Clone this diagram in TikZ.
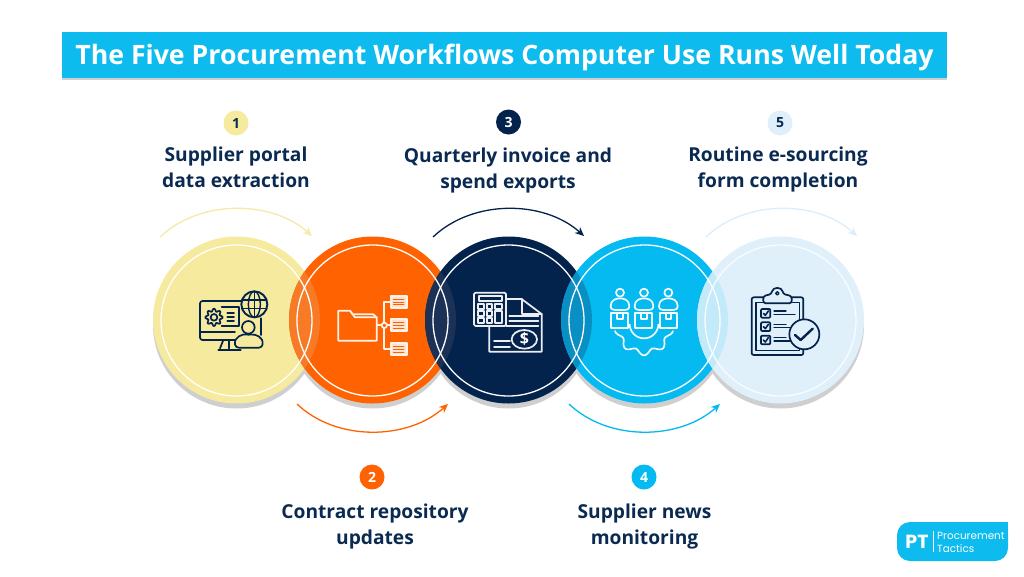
\documentclass[tikz,border=0pt]{standalone}
\usepackage{fontspec}
\setmainfont{Open Sans}
\newfontfamily\logofont{Poppins}
\usetikzlibrary{arrows.meta}
\definecolor{cyellow}{HTML}{F6EA9E}
\definecolor{corange}{HTML}{FF6200}
\definecolor{cnavy}{HTML}{03234D}
\definecolor{cblue}{HTML}{05B9F1}
\definecolor{cpale}{HTML}{DFF0FB}
\definecolor{ctitle}{HTML}{0DBBEE}
\definecolor{ctext}{HTML}{0B2A52}
\definecolor{cshadow}{HTML}{CFCFCF}
\definecolor{lensa}{HTML}{F77B26}
\definecolor{lensb}{HTML}{1C3156}
\definecolor{lensc}{HTML}{0A8FC4}
\definecolor{lensd}{HTML}{C3EAF9}
\definecolor{arcyellow}{HTML}{F5EAA6}
\definecolor{arcpale}{HTML}{DCEEF9}
\definecolor{docfill}{HTML}{FFE3D0}
\tikzset{
  disc/.style={circle,minimum size=167pt,inner sep=0pt,fill=#1},
  ring/.style={draw=white,line width=1.3pt},
  shadowdisc/.style={fill=cshadow},
  badge/.style={circle,minimum size=25pt,inner sep=0pt,fill=#1,font=\bfseries\fontsize{14}{14}\selectfont},
  steplabel/.style={align=center,font=\bfseries\fontsize{19.2}{26}\selectfont,text=ctext},
  flow/.style={line width=1.3pt,draw=#1,-{Stealth[length=9pt,width=8pt]}},
  ico/.style={line width=1.7pt,draw=#1,line join=round,line cap=round},
  zoomed/.style={x=0.33333pt,y=-0.33333pt}
}
\begin{document}
\begin{tikzpicture}[x=1pt,y=-1pt]
\useasboundingbox (0,0) rectangle (1024,576);
\fill[white] (0,0) rectangle (1024,576);

% title
\fill[cshadow] (62,34) rectangle (947,80);
\fill[ctitle] (62,32) rectangle (947,78);
\node[anchor=center,inner sep=0pt,text=white,font=\bfseries\fontsize{26.7}{30}\selectfont] (title) at (504.5,57) {The Five Procurement Workflows Computer Use Runs Well Today};

% shadows
\foreach \cx in {236.5,372.5,508.5,644.5,780.5}
  \fill[shadowdisc] (\cx,325) circle[radius=83.5];

% discs
\node[disc=cyellow] (c1) at (236.5,320) {};
\node[disc=corange] (c2) at (372.5,320) {};
\node[disc=cnavy]   (c3) at (508.5,320) {};
\node[disc=cblue]   (c4) at (644.5,320) {};
\node[disc=cpale]   (c5) at (780.5,320) {};

% overlaps
\begin{scope}\clip (236.5,320) circle[radius=83.5]; \fill[lensa] (372.5,320) circle[radius=83.5]; \end{scope}
\begin{scope}\clip (372.5,320) circle[radius=83.5]; \fill[lensb] (508.5,320) circle[radius=83.5]; \end{scope}
\begin{scope}\clip (508.5,320) circle[radius=83.5]; \fill[lensc] (644.5,320) circle[radius=83.5]; \end{scope}
\begin{scope}\clip (644.5,320) circle[radius=83.5]; \fill[lensd] (780.5,320) circle[radius=83.5]; \end{scope}

% rings
\foreach \cx in {236.5,372.5,508.5,644.5}
  \draw[ring] (\cx,320.5) circle[radius=75.5];
\draw[ring,draw=white!80!cpale] (780.5,320.5) circle[radius=75.5];

% flow arcs
\coordinate (a1s) at (160,237); \coordinate (a1e) at (312,236);
\coordinate (a2s) at (297,404); \coordinate (a2e) at (448,404);
\coordinate (a3s) at (433,237); \coordinate (a3e) at (584,236);
\coordinate (a4s) at (569,404); \coordinate (a4e) at (720,404);
\coordinate (a5s) at (706,237); \coordinate (a5e) at (857,236);
\draw[flow=arcyellow] (a1s) .. controls +(40,-38) and +(-40,-36) .. (a1e);
\draw[flow=corange]   (a2s) .. controls +(40,38) and +(-40,36) .. (a2e);
\draw[flow=cnavy]     (a3s) .. controls +(40,-38) and +(-40,-36) .. (a3e);
\draw[flow=cblue]     (a4s) .. controls +(40,38) and +(-40,36) .. (a4e);
\draw[flow=arcpale]   (a5s) .. controls +(40,-38) and +(-40,-36) .. (a5e);

% badges
\node[badge=cyellow,text=ctext] (b1) at (236,123) {1};
\node[badge=corange,text=white] (b2) at (372,477) {2};
\node[badge=cnavy,text=white]   (b3) at (508.5,122) {3};
\node[badge=cblue,text=white]   (b4) at (644,477) {4};
\node[badge=cpale,text=ctext]   (b5) at (780,123) {5};

% labels
\node[steplabel] (t1) at (236,167.5) {Supplier portal\\data extraction};
\node[steplabel] (t2) at (375,526.5) {Contract repository\\updates};
\node[steplabel] (t3) at (508,170.5) {Quarterly invoice and\\spend exports};
\node[steplabel] (t4) at (644.5,526.5) {Supplier news\\monitoring};
\node[steplabel] (t5) at (778,169.5) {Routine e-sourcing\\form completion};

% icon 1: monitor, gear, globe, person
\begin{scope}[shift={(140,220)},zoomed,ico=cnavy]
  \draw[rounded corners=2.5pt] (302,243) -- (180,243) -- (180,360) -- (290,360);
  \draw (364,295) -- (364,345);
  \draw (180,335) -- (285,335);
  \draw (250,360) -- (240,385); \draw (268,360) -- (268,385);
  \draw[rounded corners=1.5pt] (235,391) -- (302,391);
  \draw plot[domain=0:360,samples=65,smooth] ({222+(22+4*cos(8*\x))*cos(\x)},{292+(22+4*cos(8*\x))*sin(\x)});
  \draw (222,292) circle[radius=10];
  \draw (245,262) -- (297,262) -- (297,318) -- (245,318);
  \draw (262,278) -- (282,278); \draw (262,291) -- (282,291); \draw (262,304) -- (282,304);
  \draw[line width=1.9pt] (343,253) circle[radius=39];
  \draw[line width=1.4pt] (343,253) ellipse[x radius=18,y radius=39];
  \draw[line width=1.4pt] (343,214) -- (343,292);
  \draw[line width=1.4pt] (306,240) -- (380,240); \draw[line width=1.4pt] (306,266) -- (380,266);
  \draw[fill=cyellow] (325,322) circle[radius=19];
  \draw[fill=cyellow,rounded corners=3pt] (287,383) .. controls (280,350) and (310,342) .. (325,345) .. controls (345,342) and (372,350) .. (366,383) -- cycle;
\end{scope}

% icon 2: folder tree
\begin{scope}[shift={(140,220)},zoomed,ico=white!92!corange]
  \draw (595,272) -- (630,272) -- (645,292) -- (710,292) -- (710,362) -- (595,362) -- cycle;
  \draw (630,272) -- (638,283) -- (700,283) -- (710,292);
  \draw (710,316) -- (725,316); \draw (741,316) -- (752,316);
  \draw (733,308) -- (733,246) -- (752,246);
  \draw (733,324) -- (733,388) -- (752,388);
  \draw (733,316) circle[radius=8];
  \foreach \yy in {228,298,370}{
    \draw[fill=docfill] (752,\yy) rectangle (800,\yy+36);
    \draw[corange,line width=.8pt] (760,\yy+10) -- (792,\yy+10) (760,\yy+18) -- (792,\yy+18) (760,\yy+26) -- (792,\yy+26);
  }
\end{scope}

% icon 3: calculator and invoice
\begin{scope}[shift={(420,220)},zoomed,ico=white!92!cnavy]
  \draw (258,237) -- (305,237) -- (365,282) -- (365,395) -- (208,395) -- (208,318);
  \draw (305,237) -- (305,282) -- (365,282);
  \draw (268,288) -- (355,288); \draw (268,302) -- (355,302); \draw (258,318) -- (355,318);
  \draw (222,362) -- (270,362); \draw (222,382) -- (270,382);
  \draw (313,358) ellipse[x radius=38,y radius=28];
  \node[inner sep=0pt,text=white,font=\bfseries\fontsize{16}{16}\selectfont] (dollar) at (313,358) {\$};
  \draw[rounded corners=1.5pt] (162,218) rectangle (258,318);
  \draw (177,229) rectangle (245,244);
  \foreach \xx in {175,200}
    \foreach \yy in {253,273,293}
      \draw (\xx,\yy) rectangle (\xx+17,\yy+15);
  \draw (226,253) rectangle (245,268);
  \draw (226,273) rectangle (245,308);
\end{scope}

% icon 4: people, boxes, gear
\begin{scope}[shift={(420,220)},zoomed,ico=white!95!cblue]
  \foreach \cx in {600,672,745}{
    \draw (\cx,218) circle[radius=12];
    \draw (\cx-28,258) .. controls (\cx-28,240) and (\cx-12,235) .. (\cx,235) .. controls (\cx+12,235) and (\cx+28,240) .. (\cx+28,258) .. controls (\cx+28,268) and (\cx+20,270) .. (\cx+15,270) -- (\cx-15,270) .. controls (\cx-20,270) and (\cx-28,268) .. (\cx-28,258) -- cycle;
    \draw (\cx-26,280) rectangle (\cx+25,325);
    \draw (\cx-8,280) -- (\cx-8,298) -- (\cx+8,298) -- (\cx+8,280);
  }
  \draw plot[domain=2:178,samples=45,smooth] ({672+43*cos(\x)},{312+43*sin(\x)});
  \draw plot[domain=10:170,samples=81,smooth] ({672+(80+8*cos(9*(\x-90)))*cos(\x)},{318+(80+8*cos(9*(\x-90)))*sin(\x)});
\end{scope}

% icon 5: clipboard
\begin{scope}[shift={(680,220)},zoomed,ico=cnavy]
  \draw[rounded corners=2pt] (250,232) -- (215,232) -- (215,405) -- (370,405) -- (370,232) -- (335,232);
  \draw[line width=1.3pt] (250,247) -- (228,247) -- (228,392) -- (358,392) -- (358,247) -- (335,247);
  \draw[fill=cpale,rounded corners=2.5pt] (250,250) -- (250,228) -- (275,222) .. controls (278,200) and (306,200) .. (309,222) -- (335,228) -- (335,250) -- cycle;
  \draw[line width=1.3pt] (292,220) circle[radius=5];
  \foreach \yy in {280,320,360}{
    \draw[rounded corners=1pt] (243,\yy-13) rectangle (271,\yy+13);
    \draw[line width=1.6pt] (250,\yy) -- (256,\yy+6) -- (265,\yy-7);
    \draw[line width=1.3pt] (282,\yy-7) -- (318,\yy-7);
    \draw[line width=1.3pt] (282,\yy+3) -- (345,\yy+3);
  }
  \draw[fill=cpale] (373,343) circle[radius=45];
  \draw[line width=2.4pt] (345,345) -- (362,360) -- (398,326);
\end{scope}

% logo
\fill[ctitle,rounded corners=13pt] (897,522) rectangle (1008,561);
\fill[ctitle] (990,522) rectangle (1008,535);
\node[inner sep=0pt,text=white,font=\logofont\bfseries\fontsize{19}{19}\selectfont] (ptmark) at (917,542) {PT};
\draw[white,line width=.5pt] (933.5,531) -- (933.5,552);
\node[anchor=west,inner sep=0pt,text=white,font=\logofont\fontsize{10.4}{10.4}\selectfont] (proc) at (937,536) {Procurement};
\node[anchor=west,inner sep=0pt,text=white,font=\logofont\fontsize{10.4}{10.4}\selectfont] (tact) at (937,549) {Tactics};
\end{tikzpicture}
\end{document}
